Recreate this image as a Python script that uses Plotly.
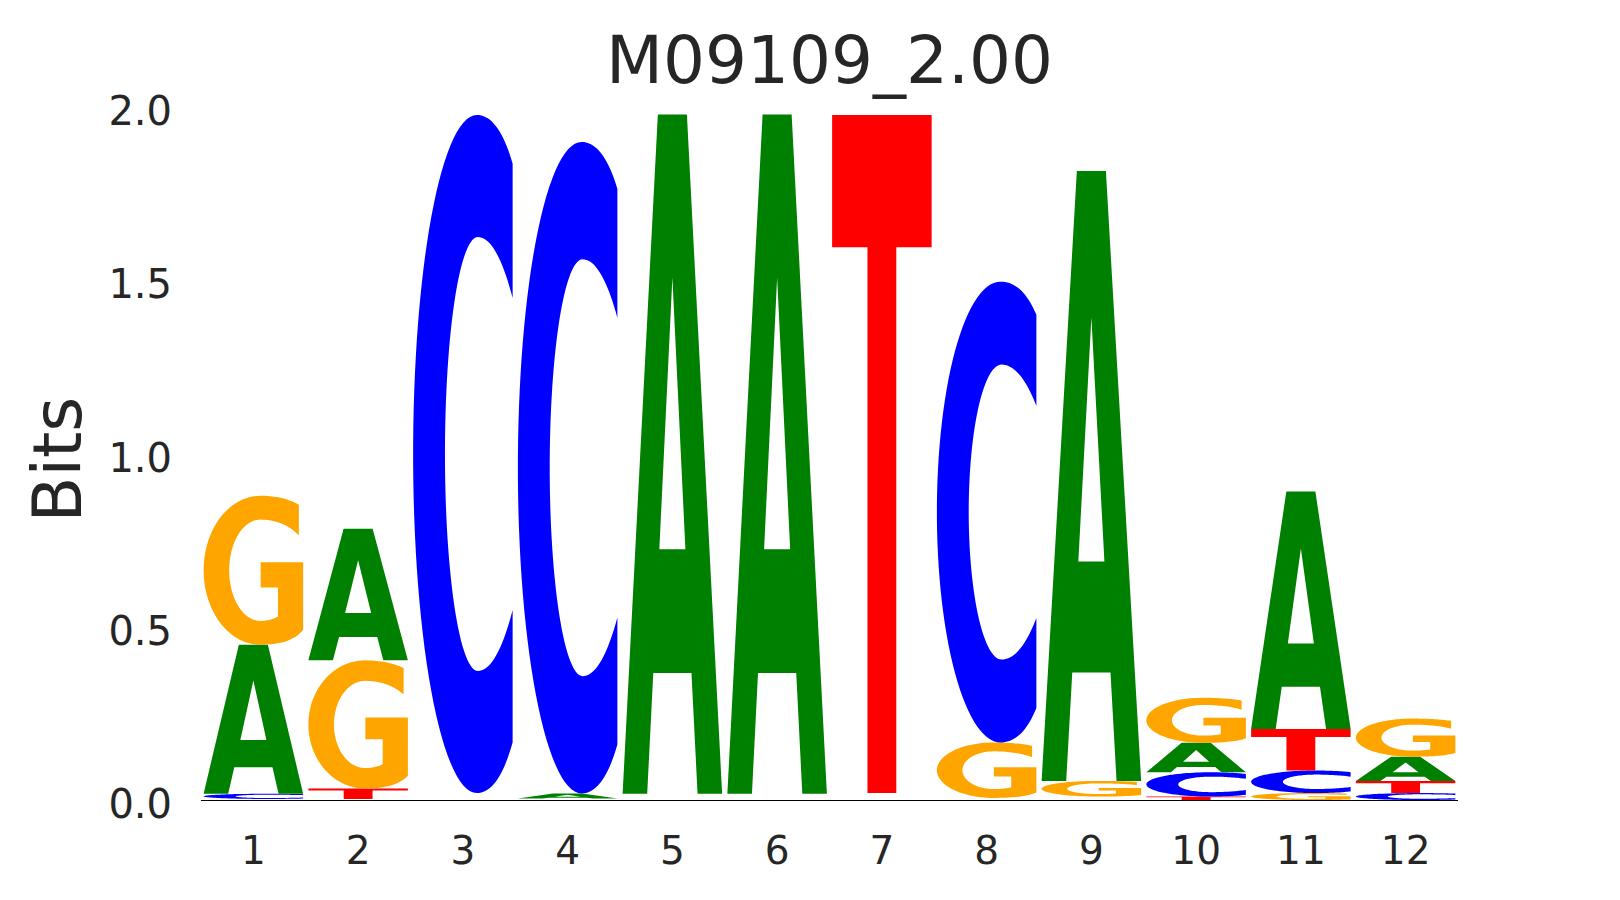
"""Sequence logo M09109_2.00 rebuilt with Plotly shapes."""

import numpy as np
import plotly.graph_objects as go

# --- data (bits per letter at each position) ---------------------------------
positions = list(range(1, 13))
letters = ["A", "C", "G", "T"]
bits_A = [0.43, 0.38, 0.007, 0.015, 1.96, 1.96, 0.007, 0.003, 1.76, 0.085, 0.685, 0.07]
bits_C = [0.015, 0.003, 1.957, 1.88, 0.006, 0.006, 0.007, 1.33, 0.006, 0.07, 0.065, 0.02]
bits_G = [0.43, 0.37, 0.007, 0.002, 0.006, 0.006, 0.006, 0.16, 0.045, 0.13, 0.02, 0.11]
bits_T = [0.003, 0.03, 0.006, 0.002, 0.006, 0.006, 1.957, 0.003, 0.004, 0.01, 0.12, 0.035]
y_ticks = [0.0, 0.5, 1.0, 1.5, 2.0]
title = "M09109_2.00"
y_label = "Bits"

heights = {"A": bits_A, "C": bits_C, "G": bits_G, "T": bits_T}
colors = {"A": "#008000", "C": "#0000ff", "G": "#ffa500", "T": "#ff0000"}
WIDTH = 0.95
MIN_VISIBLE = 0.01

# page body has an 8px margin, so the figure is 16px smaller than the window
FIG_W, FIG_H = 1604, 884


# --- glyph outlines in a unit box (DejaVu Sans Bold-like) --------------------
def arc(cx, cy, rx, ry, a0, a1, n=60):
    t = np.radians(np.linspace(a0, a1, n))
    return list(zip(cx + rx * np.cos(t), cy + ry * np.sin(t)))


def quad(p0, p1, p2, n=20):
    t = np.linspace(0, 1, n)[:, None]
    pts = (1 - t) ** 2 * np.array(p0) + 2 * (1 - t) * t * np.array(p1) + t ** 2 * np.array(p2)
    return [tuple(p) for p in pts]


def glyph_A():
    outer = [(0, 0), (0.354, 1), (0.646, 1), (1, 0), (0.753, 0),
             (0.692, 0.178), (0.308, 0.178), (0.247, 0)]
    hole = [(0.369, 0.36), (0.631, 0.36), (0.5, 0.76)]
    return [outer, hole]


def glyph_T():
    return [[(0, 1), (1, 1), (1, 0.805), (0.645, 0.805), (0.645, 0),
             (0.355, 0), (0.355, 0.805), (0, 0.805)]]


def glyph_C():
    pts = quad((1, 0.928), (0.86, 1.0), (0.64, 1.0))
    pts += arc(0.64, 0.5, 0.64, 0.5, 90, 270)
    pts += quad((0.64, 0.0), (0.86, 0.0), (1, 0.075))
    pts += quad((1, 0.27), (0.84, 0.18), (0.65, 0.18))
    pts += arc(0.65, 0.5, 0.33, 0.32, 270, 90)
    pts += quad((0.65, 0.82), (0.84, 0.82), (1, 0.73))
    return [pts]


def glyph_G():
    pts = quad((0.957, 0.94), (0.80, 1.0), (0.57, 1.0))
    pts += arc(0.57, 0.5, 0.57, 0.5, 90, 270)
    pts += quad((0.57, 0.0), (0.88, 0.0), (1, 0.10))
    pts += [(1, 0.554), (0.573, 0.554), (0.573, 0.385), (0.747, 0.385)]
    pts += quad((0.747, 0.19), (0.67, 0.16), (0.57, 0.16))
    pts += arc(0.57, 0.5, 0.313, 0.34, 270, 90)
    pts += quad((0.57, 0.84), (0.80, 0.84), (0.957, 0.735))
    return [pts]


glyphs = {"A": glyph_A(), "C": glyph_C(), "G": glyph_G(), "T": glyph_T()}


def glyph_shape(letter, pos, floor, h):
    parts = []
    for contour in glyphs[letter]:
        xy = [(pos - WIDTH / 2 + WIDTH * u, floor + h * v) for u, v in contour]
        parts.append("M" + "L".join(f"{x:.5f},{y:.5f}" for x, y in xy) + "Z")
    return dict(type="path", path=" ".join(parts), xref="x", yref="y",
                fillcolor=colors[letter], line=dict(width=0),
                fillrule="evenodd", layer="above")


# --- build figure ------------------------------------------------------------
shapes = []
totals = []
for i, p in enumerate(positions):
    col = {L: heights[L][i] for L in letters}
    floor = 0.0
    for L in sorted(letters, key=lambda k: col[k]):
        h = col[L]
        if h >= MIN_VISIBLE:
            shapes.append(glyph_shape(L, p, floor, h))
        floor += h
    totals.append(floor)

fig = go.Figure(go.Scatter(
    x=positions, y=totals, mode="markers",
    marker=dict(opacity=0), hoverinfo="skip", showlegend=False,
))

fig.update_layout(
    width=FIG_W, height=FIG_H,
    margin=dict(l=193, r=154, t=99, b=92),
    paper_bgcolor="white", plot_bgcolor="white",
    font=dict(family="DejaVu Sans", color="#262626"),
    title=dict(text=title, font=dict(size=66, color="#262626"),
               x=0.5, xref="paper", xanchor="center",
               y=1 - 51.5 / FIG_H, yref="container", yanchor="middle"),
    shapes=shapes,
    showlegend=False,
)
fig.update_xaxes(
    range=[0.5, 12.5], tickvals=positions, ticktext=[str(p) for p in positions],
    showgrid=False, zeroline=False, showline=True, linecolor="black", linewidth=1,
    ticks="", tickfont=dict(size=39), ticklabelstandoff=16,
)
fig.update_yaxes(
    range=[0, 2], tickvals=y_ticks, ticktext=[f"{v:.1f}" for v in y_ticks],
    showgrid=False, zeroline=False, showline=False,
    ticks="", tickfont=dict(size=40), ticklabelstandoff=28, ticklabelshift=4,
)
fig.add_annotation(
    text=y_label, textangle=-90, showarrow=False,
    xref="paper", yref="paper", x=-0.1134, y=0.492,
    xanchor="center", yanchor="middle", font=dict(size=67, color="#262626"),
)

fig.write_html("out.html")
